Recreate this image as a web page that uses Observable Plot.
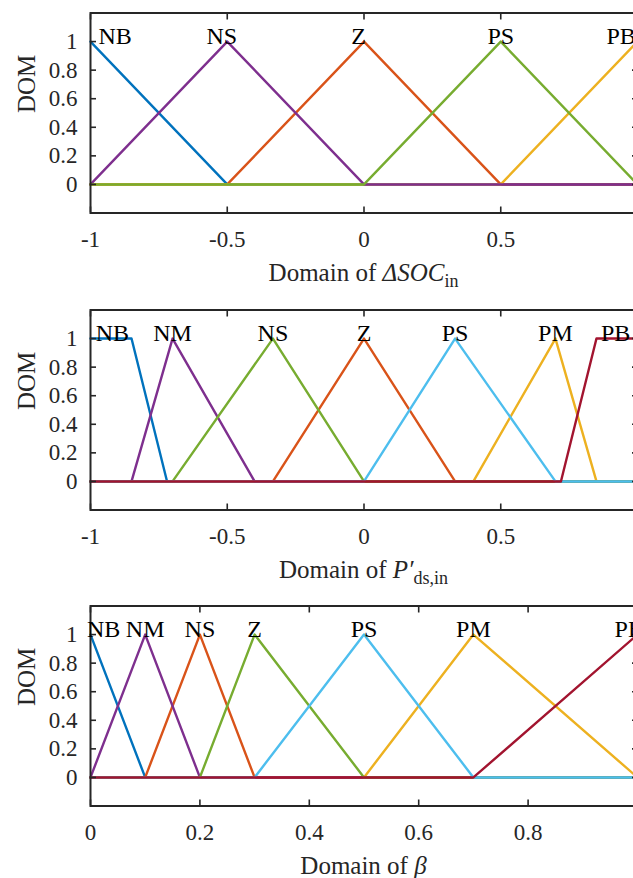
<!DOCTYPE html>
<html><head><meta charset="utf-8">
<script src="https://cdn.jsdelivr.net/npm/d3@7"></script>
<script src="https://cdn.jsdelivr.net/npm/@observablehq/plot@0.6"></script>
<style>
html,body{margin:0;padding:0;background:#fff;overflow:hidden;width:633px;height:878px}
#wrap{position:relative;width:633px;height:878px;overflow:hidden}
svg.panel{position:absolute;left:0;max-width:none !important;height:297px !important;width:657px !important}
svg.panel text{font-family:'Liberation Serif','Times New Roman',serif}
</style></head><body><div id="wrap"></div>
<script>
// ---- shared tick values ----
const yTicks = [0, 0.2, 0.4, 0.6, 0.8, 1];
const yDomain = [-0.2, 1.2];
const xTicksSym = [-1, -0.5, 0, 0.5, 1];
const xTicksBeta = [0, 0.2, 0.4, 0.6, 0.8, 1];

// ---- panel 1: ΔSOC_in (membership functions, in drawing order) ----
const socNames = ["NB", "Z", "PB", "NS", "PS"];
const socX = [
  [-1, -0.5, 1],
  [-1, -0.5, 0, 0.5, 1],
  [-1, 0.5, 1],
  [-1, -0.5, 0, 1],
  [-1, 0, 0.5, 1]
];
const socY = [
  [1, 0, 0],
  [0, 0, 1, 0, 0],
  [0, 0, 1],
  [0, 1, 0, 0],
  [0, 0, 1, 0]
];
const socColors = ["#0072BD", "#D95319", "#EDB120", "#7E2F8E", "#77AC30"];
const socLabels = ["NB", "NS", "Z", "PS", "PB"];
const socLabelX = [-0.91, -0.52, -0.02, 0.5, 0.94];

// ---- panel 2: P'ds,in ----
const pdsNames = ["NB", "Z", "PM", "NM", "NS", "PS", "PB"];
const pdsX = [
  [-1, -0.85, -0.72, 1],
  [-1, -0.333, 0, 0.333, 1],
  [-1, 0.4, 0.7, 0.85, 1],
  [-1, -0.85, -0.7, -0.4, 1],
  [-1, -0.7, -0.333, 0, 1],
  [-1, 0, 0.333, 0.7, 1],
  [-1, 0.72, 0.85, 1]
];
const pdsY = [
  [1, 1, 0, 0],
  [0, 0, 1, 0, 0],
  [0, 0, 1, 0, 0],
  [0, 0, 1, 0, 0],
  [0, 0, 1, 0, 0],
  [0, 0, 1, 0, 0],
  [0, 0, 1, 1]
];
const pdsColors = ["#0072BD", "#D95319", "#EDB120", "#7E2F8E", "#77AC30", "#4DBEEE", "#A2142F"];
const pdsLabels = ["NB", "NM", "NS", "Z", "PS", "PM", "PB"];
const pdsLabelX = [-0.92, -0.70, -0.333, 0, 0.333, 0.70, 0.92];

// ---- panel 3: β ----
const betaNames = ["NB", "NS", "PM", "NM", "Z", "PS", "PB"];
const betaX = [
  [0, 0.1, 1],
  [0, 0.1, 0.2, 0.3, 1],
  [0, 0.5, 0.7, 1],
  [0, 0.1, 0.2, 1],
  [0, 0.2, 0.3, 0.5, 1],
  [0, 0.3, 0.5, 0.7, 1],
  [0, 0.7, 1]
];
const betaY = [
  [1, 0, 0],
  [0, 0, 1, 0, 0],
  [0, 0, 1, 0],
  [0, 1, 0, 0],
  [0, 0, 1, 0, 0],
  [0, 0, 1, 0, 0],
  [0, 0, 1]
];
const betaColors = ["#0072BD", "#D95319", "#EDB120", "#7E2F8E", "#77AC30", "#4DBEEE", "#A2142F"];
const betaLabels = ["NB", "NM", "NS", "Z", "PS", "PM", "PB"];
const betaLabelX = [0.024, 0.10, 0.20, 0.30, 0.50, 0.70, 0.985];

const FONT = "'Liberation Serif', 'Times New Roman', serif";
const INK = "#262626";

function panel({top, xDomain, xTicks, xs, ys, colors, labels, labelX, axisLabel}) {
  const marks = [];
  xs.forEach((xv, i) => {
    const pts = xv.map((x, j) => ({x, y: ys[i][j]}));
    marks.push(Plot.line(pts, {x: "x", y: "y", stroke: colors[i], strokeWidth: 2.4, strokeLinejoin: "round"}));
  });
  marks.push(Plot.frame({stroke: INK, strokeWidth: 2}));
  // tick labels
  marks.push(Plot.axisX({anchor: "bottom", ticks: xTicks, tickSize: 0, tickPadding: 18, tickFormat: d => String(d), fontSize: 23, fill: INK, label: null}));
  marks.push(Plot.axisY({anchor: "left", ticks: yTicks, tickSize: 0, tickPadding: 13, tickFormat: d => String(d), fontSize: 23, fill: INK, label: null}));
  // inward ticks on all four sides
  marks.push(Plot.axisX({anchor: "bottom", ticks: xTicks, tickSize: -6, tickFormat: () => "", stroke: INK, strokeWidth: 1.6, label: null}));
  marks.push(Plot.axisX({anchor: "top", ticks: xTicks, tickSize: -6, tickFormat: () => "", stroke: INK, strokeWidth: 1.6, label: null}));
  marks.push(Plot.axisY({anchor: "left", ticks: yTicks, tickSize: -6, tickFormat: () => "", stroke: INK, strokeWidth: 1.6, label: null}));
  marks.push(Plot.axisY({anchor: "right", ticks: yTicks, tickSize: -6, tickFormat: () => "", stroke: INK, strokeWidth: 1.6, label: null}));
  // membership-function names
  marks.push(Plot.text(labels.map((t, i) => ({t, x: labelX[i]})), {x: "x", y: () => 1, text: "t", lineAnchor: "bottom", dy: 2, fontSize: 24, fill: "#000"}));
  // y label
  marks.push(Plot.text(["DOM"], {text: d => d, frameAnchor: "left", dx: -64, rotate: -90, fontSize: 25, fill: INK}));

  const svg = Plot.plot({
    width: 657, height: 297,
    marginLeft: 90, marginRight: 20, marginTop: 12.5, marginBottom: 84.5,
    style: {fontFamily: FONT, background: "transparent", overflow: "visible", maxWidth: "none"},
    x: {domain: xDomain},
    y: {domain: yDomain},
    marks
  });
  const s = d3.select(svg);
  const cx = (90 + (657 - 20)) / 2;
  const t = s.append("text")
    .attr("x", cx).attr("y", 12.5 + 200 + 68)
    .attr("text-anchor", "middle")
    .style("font-family", FONT).attr("font-size", 25).attr("fill", INK);
  axisLabel.forEach(p => {
    const ts = t.append("tspan").text(p.text);
    if (p.italic) ts.attr("font-style", "italic");
    if (p.sub) ts.attr("font-size", 18).attr("dy", 6);
  });
  svg.classList.add("panel");
  svg.style.maxWidth = "none";
  svg.style.top = top + "px";
  document.getElementById("wrap").appendChild(svg);
}

panel({top: 0, xDomain: [-1, 1], xTicks: xTicksSym, xs: socX, ys: socY, colors: socColors, labels: socLabels, labelX: socLabelX,
  axisLabel: [{text: "Domain of "}, {text: "ΔSOC", italic: true}, {text: "in", sub: true}]});
panel({top: 297, xDomain: [-1, 1], xTicks: xTicksSym, xs: pdsX, ys: pdsY, colors: pdsColors, labels: pdsLabels, labelX: pdsLabelX,
  axisLabel: [{text: "Domain of "}, {text: "P′", italic: true}, {text: "ds,in", sub: true}]});
panel({top: 593, xDomain: [0, 1], xTicks: xTicksBeta, xs: betaX, ys: betaY, colors: betaColors, labels: betaLabels, labelX: betaLabelX,
  axisLabel: [{text: "Domain of "}, {text: "β", italic: true}]});
</script></body></html>
